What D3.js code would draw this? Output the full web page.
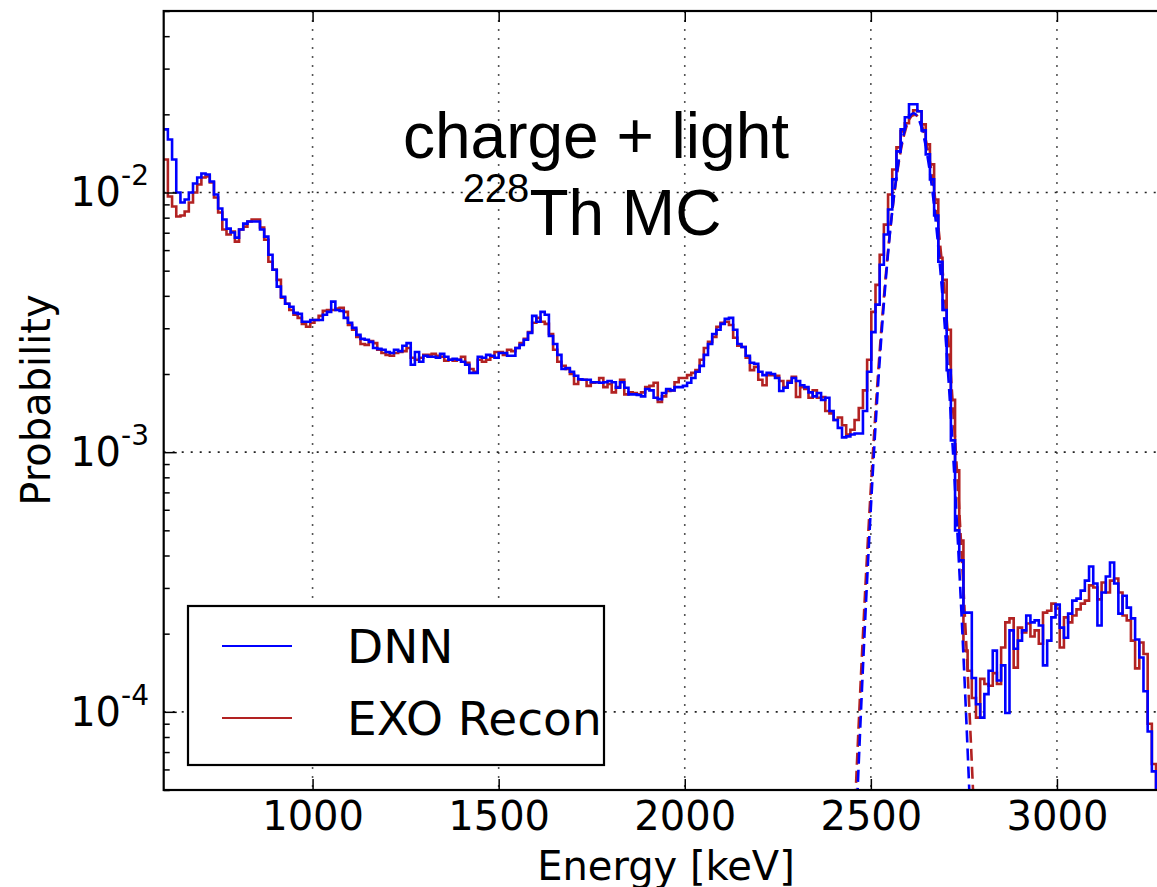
<!DOCTYPE html>
<html>
<head>
<meta charset="utf-8">
<script src="https://cdn.jsdelivr.net/npm/d3@7"></script>
<style>
body { margin: 0; background: #fff; }
svg { display: block; }
text { font-family: "DejaVu Sans", sans-serif; fill: #000; }
</style>
</head>
<body>
<svg id="chart" width="1157" height="887"></svg>
<script>
// histogram binning in keV
var binStart = 600;
var binWidth = 11.25;

// DNN energy spectrum (probability per bin)
var dnnProb = [
	0.0175, 0.0160, 0.0134, 0.0100, 0.00915, 0.0094, 0.0100, 0.01083, 0.01143, 0.01184,
	0.01173, 0.01103, 0.00982, 0.00868, 0.00787, 0.00726, 0.00701, 0.0067, 0.0072, 0.00759,
	0.00773, 0.00773, 0.00773, 0.0072, 0.00676, 0.00576, 0.00504, 0.00434, 0.00397, 0.00373,
	0.00363, 0.00344, 0.00341, 0.00318, 0.00318, 0.00323, 0.00323, 0.00323, 0.00338, 0.00347,
	0.0038, 0.00353, 0.0035, 0.00329, 0.00315, 0.00301, 0.00283, 0.00273, 0.00271, 0.00266,
	0.00252, 0.0025, 0.00248, 0.00243, 0.00241, 0.00248, 0.00245, 0.00257, 0.00263, 0.00217,
	0.00243, 0.00223, 0.00235, 0.00233, 0.00233, 0.00231, 0.00239, 0.00233, 0.00227, 0.00229,
	0.00227, 0.00223, 0.00217, 0.00202, 0.00202, 0.00233, 0.00231, 0.00237, 0.00235, 0.00231,
	0.00241, 0.00241, 0.00235, 0.00235, 0.00252, 0.00259, 0.00271, 0.00288, 0.00335, 0.00318,
	0.00347, 0.00338, 0.0028, 0.00261, 0.00237, 0.00209, 0.00211, 0.00204, 0.00197, 0.00191,
	0.0019, 0.0019, 0.00186, 0.00186, 0.00185, 0.00186, 0.00188, 0.00186, 0.00177, 0.00186,
	0.00177, 0.00167, 0.00167, 0.00166, 0.00164, 0.00175, 0.00173, 0.00162, 0.0016, 0.00169,
	0.00175, 0.00173, 0.00178, 0.00178, 0.0018, 0.00185, 0.00193, 0.00204, 0.00215, 0.00237,
	0.00261, 0.00285, 0.00296, 0.00312, 0.00326, 0.00329, 0.00296, 0.00261, 0.00254, 0.00235,
	0.00221, 0.00219, 0.00204, 0.00198, 0.00202, 0.002, 0.00193, 0.00172, 0.00177, 0.00185,
	0.00193, 0.00188, 0.00181, 0.00178, 0.0017, 0.00164, 0.00169, 0.00159, 0.00162, 0.00144,
	0.00133, 0.00124, 0.00114, 0.00115, 0.00117, 0.00118, 0.00118, 0.00144, 0.00204, 0.0029,
	0.0037, 0.00527, 0.00689, 0.0086, 0.01123, 0.0144, 0.0175, 0.01949, 0.02187, 0.02187,
	0.02055, 0.01735, 0.01402, 0.01123, 0.00815, 0.00541, 0.00353, 0.00207, 0.00111, 0.0005,
	0.000383, 0.000241, 0.000241, 0.000135, 0.000107, 0.000095, 0.000117, 0.000144, 0.000172, 0.000132,
	0.000151, 0.000099, 0.000206, 0.000175, 0.000188, 0.000206, 0.000235, 0.000221, 0.000225, 0.000215,
	0.000151, 0.000188, 0.000231, 0.000259, 0.000211, 0.000193, 0.000239, 0.000268, 0.000273, 0.000293,
	0.00032, 0.000363, 0.000312, 0.000215, 0.000288, 0.000332, 0.000376, 0.000312, 0.000239, 0.00028,
	0.000252, 0.000229, 0.00019, 0.000162, 0.00012, 0.000084, 0.000059, 0.00003, 0.00003, 0.00003
];

// EXO Recon energy spectrum (probability per bin)
var exoProb = [
	0.0134, 0.00965, 0.00883, 0.00808, 0.00815, 0.00845, 0.00915, 0.0100, 0.01074, 0.01143,
	0.01153, 0.01093, 0.00956, 0.00837, 0.0072, 0.00689, 0.00707, 0.00647, 0.0072, 0.00739,
	0.00773, 0.00787, 0.00787, 0.00733, 0.00658, 0.00541, 0.00504, 0.00461, 0.00393, 0.00373,
	0.00353, 0.00338, 0.00329, 0.00312, 0.00304, 0.00315, 0.00323, 0.00335, 0.0035, 0.00353,
	0.00353, 0.00357, 0.0036, 0.00347, 0.00309, 0.00296, 0.00278, 0.00261, 0.00259, 0.00268,
	0.00263, 0.00248, 0.00241, 0.00237, 0.00235, 0.00241, 0.00243, 0.00245, 0.00252, 0.00231,
	0.00227, 0.00231, 0.00237, 0.00237, 0.00239, 0.00235, 0.00233, 0.00225, 0.00227, 0.00225,
	0.00227, 0.00233, 0.00221, 0.00209, 0.00204, 0.00227, 0.00223, 0.00227, 0.00233, 0.00243,
	0.00243, 0.00237, 0.00248, 0.00245, 0.00252, 0.00263, 0.00273, 0.0029, 0.00315, 0.00329,
	0.00318, 0.00312, 0.00285, 0.00248, 0.00223, 0.00215, 0.00209, 0.002, 0.00183, 0.0019,
	0.0019, 0.0018, 0.00185, 0.00186, 0.00193, 0.00178, 0.00183, 0.0017, 0.00178, 0.0019,
	0.00167, 0.0017, 0.00169, 0.00167, 0.0017, 0.00178, 0.0018, 0.00185, 0.00156, 0.00164,
	0.00172, 0.00173, 0.00186, 0.00193, 0.00193, 0.00198, 0.00202, 0.00207, 0.00227, 0.00252,
	0.00266, 0.00278, 0.00304, 0.00315, 0.00318, 0.00309, 0.00276, 0.00257, 0.00254, 0.00231,
	0.00207, 0.00213, 0.0019, 0.00181, 0.00198, 0.00198, 0.00197, 0.00188, 0.00178, 0.00188,
	0.00195, 0.00163, 0.00178, 0.00175, 0.00162, 0.00173, 0.00162, 0.00163, 0.00144, 0.00141,
	0.00133, 0.00136, 0.00127, 0.00117, 0.00122, 0.00133, 0.00148, 0.00173, 0.00227, 0.00347,
	0.00441, 0.00576, 0.00752, 0.00982, 0.01227, 0.01492, 0.0172, 0.01847, 0.01983, 0.02073,
	0.02055, 0.0183, 0.01532, 0.01283, 0.0094, 0.00561, 0.00461, 0.00296, 0.00159, 0.000852,
	0.000457, 0.000172, 0.000144, 0.000113, 0.000095, 0.000134, 0.000128, 0.000126, 0.000141, 0.000128,
	0.000177, 0.000221, 0.000229, 0.000148, 0.000211, 0.000202, 0.000219, 0.000195, 0.000206, 0.000183,
	0.000241, 0.000245, 0.000261, 0.00025, 0.000177, 0.000231, 0.000221, 0.000235, 0.000248, 0.000261,
	0.000268, 0.000307, 0.000301, 0.000271, 0.000315, 0.000288, 0.00032, 0.000326, 0.000288, 0.000235,
	0.000225, 0.000188, 0.000147, 0.000185, 0.000167, 0.00009, 0.000063, 0.00003, 0.00003, 0.00003
];

// peak fits (dashed)
var dnnFitEnergy = [2450, 2460, 2480, 2500, 2520, 2540, 2560, 2580, 2600, 2615, 2630, 2650, 2670, 2690, 2710, 2730, 2750, 2770, 2780];
var dnnFitProb = [0.000015, 0.000035, 0.000162, 0.00061, 0.00187, 0.0046, 0.00915, 0.0147, 0.0191, 0.0202, 0.01895, 0.0144, 0.0089, 0.00442, 0.00178, 0.000576, 0.000151, 0.000032, 0.000014];
var exoFitEnergy = [2450, 2460, 2480, 2500, 2520, 2540, 2560, 2580, 2600, 2617, 2635, 2655, 2675, 2695, 2715, 2735, 2755, 2775, 2785];
var exoFitProb = [0.000024, 0.000052, 0.000215, 0.00073, 0.00206, 0.00478, 0.0091, 0.0144, 0.0187, 0.0200, 0.0185, 0.0141, 0.0089, 0.0046, 0.00197, 0.00069, 0.0002, 0.000048, 0.000022];

var xTicks = [1000, 1500, 2000, 2500, 3000];
var yTicks = [1e-4, 1e-3, 1e-2];
var yTickExp = ["-4", "-3", "-2"];
var seriesNames = ["DNN", "EXO Recon"];
var seriesColors = ["#0000ff", "#b22222"];

var plotL = 163.7, plotR = 1168.6, plotT = 11, plotB = 790;

var x = d3.scaleLinear().domain([600, 3300]).range([plotL, plotR]);
var y = d3.scaleLog().domain([5e-5, 5e-2]).range([plotB, plotT]);

var svg = d3.select("#chart");

svg.append("defs").append("clipPath").attr("id", "plotclip")
	.append("rect")
	.attr("x", plotL).attr("y", plotT)
	.attr("width", plotR - plotL).attr("height", plotB - plotT);

// grid
var grid = svg.append("g");
grid.selectAll(".vg").data(xTicks).join("line")
	.attr("x1", d => x(d)).attr("x2", d => x(d))
	.attr("y1", plotT).attr("y2", plotB)
	.attr("stroke", "#555").attr("stroke-width", 1.6)
	.attr("stroke-dasharray", "2,7");
grid.selectAll(".hg").data(yTicks).join("line")
	.attr("x1", plotL).attr("x2", plotR)
	.attr("y1", d => y(d)).attr("y2", d => y(d))
	.attr("stroke", "#222").attr("stroke-width", 1.6)
	.attr("stroke-dasharray", "2,7");

// histograms
function stepPoints(arr) {
	var pts = arr.map((v, i) => [binStart + i * binWidth, v]);
	pts.push([binStart + arr.length * binWidth, arr[arr.length - 1]]);
	return pts;
}
var histLine = d3.line()
	.x(d => x(d[0]))
	.y(d => y(d[1]))
	.curve(d3.curveStepAfter);
var fitLine = d3.line()
	.x(d => x(d[0]))
	.y(d => y(d[1]))
	.curve(d3.curveMonotoneX);

var plot = svg.append("g").attr("clip-path", "url(#plotclip)");

plot.append("path")
	.attr("d", histLine(stepPoints(exoProb)))
	.attr("fill", "none").attr("stroke", seriesColors[1]).attr("stroke-width", 2.6);
plot.append("path")
	.attr("d", fitLine(exoFitEnergy.map((e, i) => [e, exoFitProb[i]])))
	.attr("fill", "none").attr("stroke", seriesColors[1]).attr("stroke-width", 2.6)
	.attr("stroke-dasharray", "12,6");
plot.append("path")
	.attr("d", histLine(stepPoints(dnnProb)))
	.attr("fill", "none").attr("stroke", seriesColors[0]).attr("stroke-width", 2.6);
plot.append("path")
	.attr("d", fitLine(dnnFitEnergy.map((e, i) => [e, dnnFitProb[i]])))
	.attr("fill", "none").attr("stroke", seriesColors[0]).attr("stroke-width", 2.6)
	.attr("stroke-dasharray", "12,6");

// axes (ticks pointing inward)
var xAxis = svg.append("g")
	.attr("transform", "translate(0," + plotB + ")")
	.call(d3.axisBottom(x).tickValues(xTicks).tickSizeInner(-11).tickSizeOuter(0)
		.tickPadding(12).tickFormat(d3.format("d")));
xAxis.select(".domain").remove();
xAxis.selectAll("line").attr("stroke", "#000").attr("stroke-width", 1.5);
xAxis.selectAll("text")
	.style("font-size", "40px")
	.style("font-family", "'DejaVu Sans', sans-serif")
	.attr("fill", "#000");

var xTop = svg.append("g")
	.attr("transform", "translate(0," + plotT + ")")
	.call(d3.axisTop(x).tickValues(xTicks).tickSizeInner(-11).tickSizeOuter(0).tickFormat(""));
xTop.select(".domain").remove();
xTop.selectAll("line").attr("stroke", "#000").attr("stroke-width", 1.5);

var minorTicks = [];
[-5, -4, -3, -2].forEach(function (p) {
	for (var m = 2; m <= 9; m++) {
		var v = m * Math.pow(10, p);
		if (v >= 5e-5 && v <= 5e-2) minorTicks.push(v);
	}
});

var yAxis = svg.append("g")
	.attr("transform", "translate(" + plotL + ",0)")
	.call(d3.axisLeft(y).tickValues(yTicks).tickSizeInner(-13).tickSizeOuter(0).tickFormat(""));
yAxis.select(".domain").remove();
yAxis.selectAll("line").attr("stroke", "#000").attr("stroke-width", 1.5);

var yMinor = svg.append("g")
	.attr("transform", "translate(" + plotL + ",0)")
	.call(d3.axisLeft(y).tickValues(minorTicks).tickSizeInner(-6).tickSizeOuter(0).tickFormat(""));
yMinor.select(".domain").remove();
yMinor.selectAll("line").attr("stroke", "#000").attr("stroke-width", 1.5);

// y tick labels with superscript exponents
var yLab = svg.append("g");
yTicks.forEach(function (v, i) {
	var t = yLab.append("text")
		.attr("x", 149).attr("y", y(v) + 14)
		.attr("text-anchor", "end")
		.style("font-size", "40px");
	t.append("tspan").text("10");
	t.append("tspan").attr("dy", -21).style("font-size", "28px").text(yTickExp[i]);
});

// frame
svg.append("rect")
	.attr("x", plotL).attr("y", plotT)
	.attr("width", plotR - plotL).attr("height", plotB - plotT)
	.attr("fill", "none").attr("stroke", "#000").attr("stroke-width", 2.2);

// axis titles
svg.append("text")
	.attr("x", 666).attr("y", 880)
	.attr("text-anchor", "middle")
	.style("font-size", "40px")
	.text("Energy [keV]");
svg.append("text")
	.attr("transform", "translate(50,400) rotate(-90)")
	.attr("text-anchor", "middle")
	.style("font-size", "40px")
	.text("Probability");

// annotation
svg.append("text")
	.attr("x", 596).attr("y", 158)
	.attr("text-anchor", "middle")
	.style("font-family", "'Liberation Sans', Arial, sans-serif")
	.style("font-size", "64px")
	.text("charge + light");
var sub = svg.append("text")
	.attr("x", 592).attr("y", 235)
	.attr("text-anchor", "middle")
	.style("font-family", "'Liberation Sans', Arial, sans-serif")
	.style("font-size", "64px");
sub.append("tspan").attr("dy", -33).style("font-size", "40px").text("228");
sub.append("tspan").attr("dy", 33).text("Th MC");

// legend
var legend = svg.append("g");
legend.append("rect")
	.attr("x", 188).attr("y", 606).attr("width", 416).attr("height", 159)
	.attr("fill", "#fff").attr("stroke", "#000").attr("stroke-width", 2.2);
seriesNames.forEach(function (name, i) {
	var ly = 646 + i * 72;
	legend.append("line")
		.attr("x1", 222).attr("x2", 292).attr("y1", ly).attr("y2", ly)
		.attr("stroke", seriesColors[i]).attr("stroke-width", 2);
	legend.append("text")
		.attr("x", 347).attr("y", ly + 17)
		.style("font-size", "47px")
		.text(name);
});
</script>
</body>
</html>
